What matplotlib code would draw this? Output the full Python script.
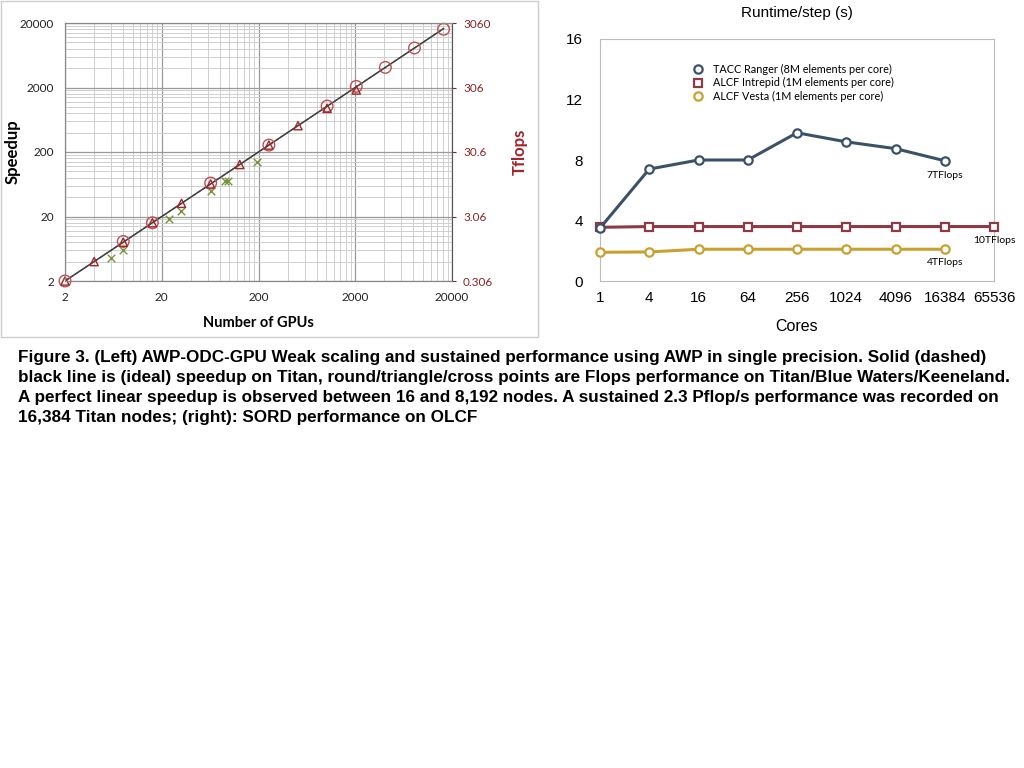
import numpy as np
import matplotlib
matplotlib.use("Agg")
import matplotlib.pyplot as plt
from matplotlib.ticker import FixedLocator, NullFormatter, FixedFormatter
from matplotlib.patches import Rectangle

# ---- left panel data (weak scaling, speedup units) ----
titan_gpus = [2, 8, 16, 64, 256, 1024, 2048, 4096, 8192, 16384]
titan_speedup = [2, 8.2, 16, 66, 256, 1030, 2080, 4100, 8200, 16000]
bw_gpus = [2, 4, 8, 16, 32, 64, 128, 256, 512, 1024, 2048]
bw_speedup = [2, 4, 8, 16, 32, 64, 128, 256, 512, 950, 1830]
keen_gpus = [6, 8, 24, 32, 64, 90, 96, 192]
keen_speedup = [4.6, 6.1, 18.3, 24, 50, 70, 71, 141]
ideal_gpus = [2, 16384]

speedup_ticks = [2, 20, 200, 2000, 20000]
tflops_ticks = [0.306, 3.06, 30.6, 306, 3060]

# ---- right panel data (runtime per step) ----
cores = ["1", "4", "16", "64", "256", "1024", "4096", "16384", "65536"]
ranger = [3.5, 7.4, 8.0, 8.0, 9.8, 9.2, 8.75, 7.95]
intrepid = [3.55, 3.6, 3.6, 3.6, 3.6, 3.6, 3.6, 3.6, 3.6]
vesta = [1.9, 1.92, 2.1, 2.1, 2.1, 2.1, 2.1, 2.1]

fig = plt.figure(figsize=(10.24, 7.68), dpi=100)

# box round the left picture
fig.patches.append(Rectangle((0.001, 1 - 337 / 768), 537 / 1024, 336 / 768,
                             transform=fig.transFigure, fill=False,
                             edgecolor="#cccccc", linewidth=1))

ax = fig.add_axes([65 / 1024, 1 - 281 / 768, 387 / 1024, 258 / 768])
ax.set_xscale("log")
ax.set_yscale("log")
ax.set_xlim(2, 20000)
ax.set_ylim(2, 20000)

minor = [k * 2 * 10 ** n for n in range(0, 4) for k in range(2, 10)]
ax.xaxis.set_major_locator(FixedLocator(speedup_ticks))
ax.yaxis.set_major_locator(FixedLocator(speedup_ticks))
ax.xaxis.set_minor_locator(FixedLocator(minor))
ax.yaxis.set_minor_locator(FixedLocator(minor))
ax.xaxis.set_major_formatter(FixedFormatter([str(t) for t in speedup_ticks]))
ax.yaxis.set_major_formatter(FixedFormatter([str(t) for t in speedup_ticks]))
ax.xaxis.set_minor_formatter(NullFormatter())
ax.yaxis.set_minor_formatter(NullFormatter())
ax.grid(True, which="major", color="#9a9a9a", linewidth=0.9)
ax.grid(True, which="minor", color="#cfcfcf", linewidth=0.7)
ax.tick_params(which="minor", length=0)
ax.tick_params(which="major", length=0, labelsize=8.5, pad=8)
for lbl in ax.get_xticklabels() + ax.get_yticklabels():
    lbl.set_family("Lato")
    lbl.set_color("#222222")
for s in ax.spines.values():
    s.set_color("#888888")

ax.plot(ideal_gpus, ideal_gpus, color="#404040", linewidth=1.1, zorder=3)
ax.plot(ideal_gpus, ideal_gpus, color="#404040", linewidth=0.8, linestyle="--", zorder=3)
ax.scatter(titan_gpus, titan_speedup, s=70, facecolors="none",
           edgecolors="#c0504d", linewidths=1.0, zorder=4, clip_on=False)
ax.scatter(bw_gpus, bw_speedup, s=35, marker="^", facecolors="none",
           edgecolors="#a3242a", linewidths=1.0, zorder=5, clip_on=False)
ax.scatter(keen_gpus, keen_speedup, s=30, marker="x",
           color="#77933c", linewidths=1.0, zorder=4)

ax.set_xlabel("Number of GPUs", fontsize=10.5, fontweight="bold", family="Lato")
ax.xaxis.set_label_coords(0.5, -0.135)
ax.set_ylabel("Speedup", fontsize=12, fontweight="bold", family="Lato")
ax.yaxis.set_label_coords(-44 / 387, 0.5)

ax2 = ax.twinx()
ax2.set_yscale("log")
ax2.set_ylim(0.306, 3060)
ax2.yaxis.set_major_locator(FixedLocator(tflops_ticks))
ax2.yaxis.set_major_formatter(FixedFormatter([str(t) for t in tflops_ticks]))
ax2.yaxis.set_minor_locator(FixedLocator([]))
ax2.tick_params(which="major", length=3, labelsize=8.5, colors="#8b2323",
                width=0.8, pad=5)
for lbl in ax2.get_yticklabels():
    lbl.set_family("Lato")
ax2.spines["right"].set_color("#555555")
for k in ["left", "top", "bottom"]:
    ax2.spines[k].set_color("#888888")
ax2.set_ylabel("Tflops", fontsize=12, fontweight="bold", color="#a3242a", family="Lato")
ax2.yaxis.set_label_coords(1 + 60 / 387, 0.5)

# ---- right panel ----
bx = fig.add_axes([600 / 1024, 1 - 281 / 768, 394 / 1024, 242 / 768])
xi = np.arange(len(cores))
c_ranger = "#3b5168"
c_intrepid = "#8e3a44"
c_vesta = "#c9a032"
bx.plot(xi[:len(ranger)], ranger, color=c_ranger, linewidth=2.2, marker="o",
        markersize=6, markerfacecolor="white", markeredgewidth=1.6,
        label="TACC Ranger (8M elements per core)", clip_on=False, zorder=4)
bx.plot(xi[:len(intrepid)], intrepid, color=c_intrepid, linewidth=2.2, marker="s",
        markersize=6, markerfacecolor="white", markeredgewidth=1.6,
        label="ALCF Intrepid (1M elements per core)", clip_on=False, zorder=3)
bx.plot(xi[:len(vesta)], vesta, color=c_vesta, linewidth=2.2, marker="o",
        markersize=6, markerfacecolor="white", markeredgewidth=1.6,
        label="ALCF Vesta (1M elements per core)", clip_on=False, zorder=3)
bx.set_xlim(0, len(cores) - 1)
bx.set_ylim(0, 16)
bx.set_xticks(xi)
bx.set_xticklabels(cores)
bx.set_yticks([0, 4, 8, 12, 16])
bx.tick_params(length=0, labelsize=11, pad=7)
bx.tick_params(axis="y", pad=12)
for lbl in bx.get_xticklabels() + bx.get_yticklabels():
    lbl.set_family("Liberation Sans")
for s in bx.spines.values():
    s.set_color("#bbbbbb")
bx.set_title("Runtime/step (s)", fontsize=11, pad=16, family="Liberation Sans")
bx.set_xlabel("Cores", fontsize=11.5, labelpad=10, family="Liberation Sans")

leg = bx.legend(loc="upper left", bbox_to_anchor=(0.223, 0.915), frameon=False,
                handlelength=1.0, handletextpad=0.9, borderaxespad=0,
                labelspacing=0.22, prop={"family": "Lato", "size": 7.8})
for h in leg.legend_handles:
    h.set_linestyle("none")

bx.text(7, 7.25, "7TFlops", ha="center", va="top", fontsize=7.5, family="Lato")
bx.text(8, 3.0, "10TFlops", ha="center", va="top", fontsize=7.5, family="Lato")
bx.text(7, 1.55, "4TFlops", ha="center", va="top", fontsize=7.5, family="Lato")

caption = ("Figure 3. (Left) AWP-ODC-GPU Weak scaling and sustained performance using AWP in single precision. Solid (dashed)\n"
           "black line is (ideal) speedup on Titan, round/triangle/cross points are Flops performance on Titan/Blue Waters/Keeneland.\n"
           "A perfect linear speedup is observed between 16 and 8,192 nodes. A sustained 2.3 Pflop/s performance was recorded on\n"
           "16,384 Titan nodes; (right): SORD performance on OLCF")
fig.text(18 / 1024, 1 - 350 / 768, caption, ha="left", va="top", fontsize=12.3,
         fontweight="bold", family="Liberation Sans", linespacing=1.42)

fig.savefig("out.png", dpi=100)
